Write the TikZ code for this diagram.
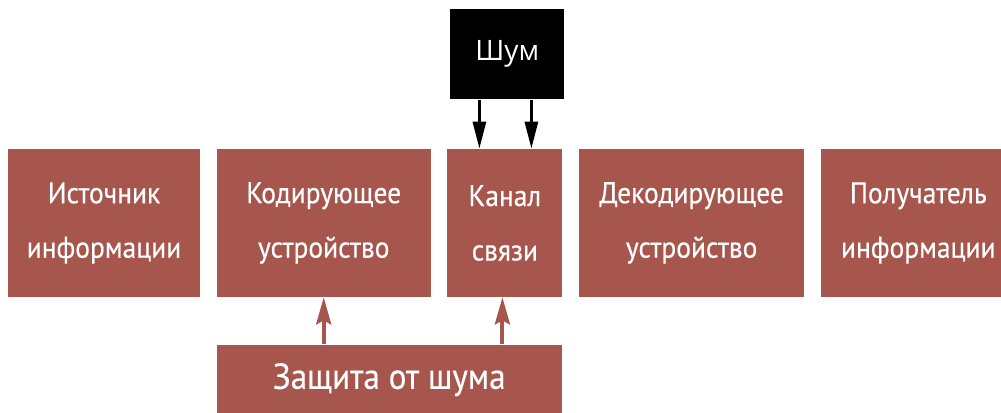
\documentclass[tikz,border=0pt]{standalone}
\usepackage{fontspec}
\setmainfont{PT Sans}
\newfontfamily\blockfont{PT Sans}[FakeStretch=0.92,FakeBold=0.4]
\newfontfamily\noisefont{Open Sans}
\usepackage{xcolor}
\usepackage{tikz}
\usetikzlibrary{arrows.meta,positioning}

\definecolor{boxred}{RGB}{166,86,76}

\begin{document}
\begin{tikzpicture}[
  node distance=0.98cm and 0.32cm,
  block/.style={fill=boxred, text=white, align=center, inner sep=0pt, minimum height=2.96cm, font=\blockfont\fontsize{17}{31}\selectfont},
  noisebox/.style={fill=black, text=white, inner sep=0pt, minimum width=2.28cm, minimum height=1.8cm, font=\noisefont\fontsize{16}{19}\selectfont},
  noisearrow/.style={-{Triangle[length=0.54cm,width=0.26cm]}, line width=1.7pt},
  guardarrow/.style={-{Stealth[length=0.54cm,width=0.3cm,inset=0.08cm]}, line width=2.2pt, draw=boxred, fill=boxred}
]
\useasboundingbox (0,0) rectangle (20.02,8.26);

\node[block, minimum width=3.84cm] (source) at (2.08,3.80) {Источник\\информации};
\node[block, minimum width=4.28cm, right=of source] (coder) {Кодирующее\\устройство};
\node[block, minimum width=2.30cm, right=of coder] (chan) {Канал\\связи};
\node[block, minimum width=4.50cm, right=of chan] (decoder) {Декодирующее\\устройство};
\node[block, minimum width=3.90cm, right=of decoder] (dest) {Получатель\\информации};

\node[noisebox, above=of chan, xshift=0.05cm] (noise) {Шум};
\node[block, minimum width=6.90cm, minimum height=1.40cm, font=\blockfont\fontsize{20.5}{24}\selectfont,
      below=0.94cm of coder.south west, anchor=north west] (guard) {Защита от шума};

\draw[noisearrow] ([xshift=-0.56cm]noise.south) -- ([xshift=-0.56cm]noise.south |- chan.north);
\draw[noisearrow] ([xshift=0.48cm]noise.south) -- ([xshift=0.48cm]noise.south |- chan.north);
\draw[guardarrow] (guard.north -| coder.south) -- (coder.south);
\draw[guardarrow] ([xshift=-0.05cm]guard.north -| chan.south) -- ([xshift=-0.05cm]chan.south);
\end{tikzpicture}
\end{document}
